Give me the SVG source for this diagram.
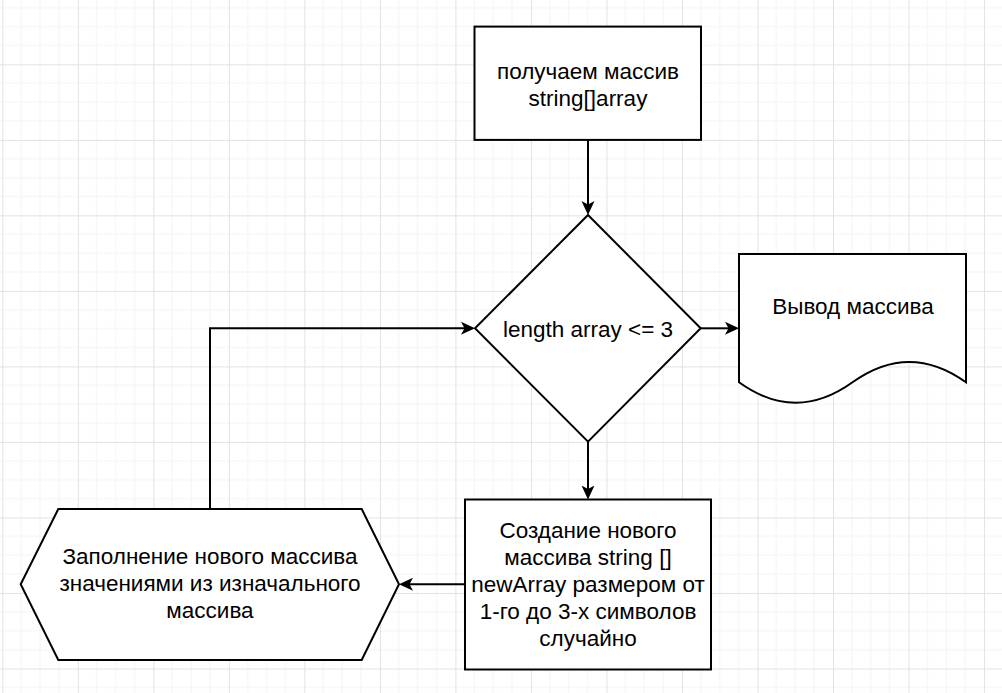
<svg xmlns="http://www.w3.org/2000/svg" width="1002" height="693" viewBox="0 0 1002 693">
<style>
.shape{fill:#ffffff;stroke:#000000;stroke-width:2}
.edge{fill:none;stroke:#000000;stroke-width:2}
.lbl{font-family:"Liberation Sans",Arial,sans-serif;font-size:22.5px;fill:#000000;text-anchor:middle}
</style>
<defs>
<pattern id="grid" patternUnits="userSpaceOnUse" x="2.3" y="-11.2" width="75.52" height="75.52">
<path d="M18.88,0V75.52M37.76,0V75.52M56.64,0V75.52M0,18.88H75.52M0,37.76H75.52M0,56.64H75.52" stroke="#f3f3f3" stroke-width="1" fill="none"/>
<path d="M0.5,0V75.52M0,0.5H75.52" stroke="#e2e2e2" stroke-width="1" fill="none"/>
</pattern>
<marker id="arr" markerUnits="userSpaceOnUse" markerWidth="16" markerHeight="16" viewBox="0 0 16 16" refX="4" refY="7" orient="auto">
<path d="M0,0.5L14,7L0,13.5L3.5,7Z" fill="#000000"/>
</marker>
</defs>
<rect x="0" y="0" width="1002" height="693" fill="#ffffff"/>
<rect x="0" y="0" width="1002" height="693" fill="url(#grid)"/>
<g id="connectors">
<path class="edge" d="M588,140V205" marker-end="url(#arr)"/>
<path class="edge" d="M588,441.7V489.5" marker-end="url(#arr)"/>
<path class="edge" d="M700.7,328.3H729" marker-end="url(#arr)"/>
<path class="edge" d="M465,584.3H409" marker-end="url(#arr)"/>
<path class="edge" d="M210,509V328.3H465" marker-end="url(#arr)"/>
</g>
<g id="node-start">
<rect class="shape" x="474.5" y="26.6" width="226.5" height="113.3"/>
<text class="lbl" x="588" y="79.3">получаем массив</text>
<text class="lbl" x="588" y="106">string[]array</text>
</g>
<g id="node-decision">
<path class="shape" d="M588,215L700.7,328.3L588,441.7L475,328.3Z"/>
<text class="lbl" x="588" y="336.7">length array &lt;= 3</text>
</g>
<g id="node-output">
<path class="shape" d="M739,254H966V382.3Q909.25,341.6 852.5,382.3Q795.75,423.1 739,382.3Z"/>
<text class="lbl" x="853" y="314">Вывод массива</text>
</g>
<g id="node-create">
<rect class="shape" x="465" y="499.5" width="246" height="170"/>
<text class="lbl" x="588" y="537.8">Создание нового</text>
<text class="lbl" x="588" y="564.8">массива string []</text>
<text class="lbl" x="588" y="591.8">newArray размером от</text>
<text class="lbl" x="588" y="618.8">1-го до 3-х символов</text>
<text class="lbl" x="588" y="645.8">случайно</text>
</g>
<g id="node-fill">
<path class="shape" d="M20.7,584.3L58.3,509H361.7L399,584.3L361.7,660H58.3Z"/>
<text class="lbl" x="210" y="564">Заполнение нового массива</text>
<text class="lbl" x="210" y="591">значениями из изначального</text>
<text class="lbl" x="210" y="618">массива</text>
</g>
</svg>
